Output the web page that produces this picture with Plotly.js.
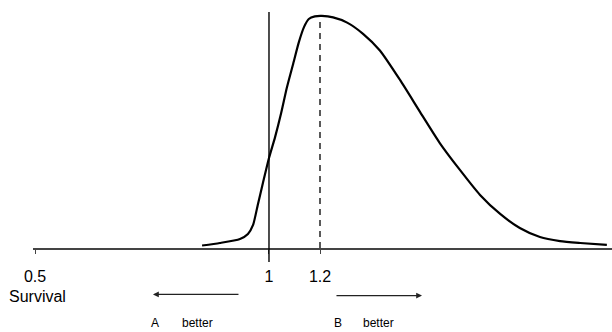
<!DOCTYPE html>
<html>
<head>
<meta charset="utf-8">
<script src="https://cdn.plot.ly/plotly-3.0.1.min.js"></script>
<style>html,body{margin:0;padding:0;background:#fff}#chart{width:612px;height:332px}</style>
</head>
<body>
<div id="chart"></div>
<script>
// Schematic density of the survival ratio (x in display units of the sketch)
var curveX = [0.857, 0.895, 0.938, 0.955, 0.966, 0.976, 0.987, 1.000, 1.013, 1.026, 1.038, 1.051, 1.064, 1.075, 1.085, 1.098, 1.113, 1.137, 1.167, 1.201, 1.237, 1.280, 1.323, 1.365, 1.408, 1.451, 1.494, 1.536, 1.579, 1.622, 1.665, 1.722];
var curveY = [0.0105, 0.021, 0.038, 0.059, 0.097, 0.181, 0.273, 0.378, 0.466, 0.567, 0.672, 0.769, 0.866, 0.929, 0.962, 0.973, 0.975, 0.969, 0.947, 0.900, 0.830, 0.706, 0.571, 0.441, 0.328, 0.223, 0.143, 0.084, 0.046, 0.029, 0.021, 0.013];
var tickPos = [0.5, 1.0, 1.109];
var tickLabels = ['0.5', '1', '1.2'];
var noEffect = 1.0;        // vertical reference line
var peakPos = 1.109;       // dashed line at the mode (label 1.2)
var peakHeight = 0.975;
var axisTitle = 'Survival';
var sideLabels = ['A', 'better', 'B', 'better'];

var font = 'Liberation Sans, Arial, sans-serif';

var traces = [{
  x: curveX, y: curveY, type: 'scatter', mode: 'lines',
  line: {color: '#000', width: 2.2, shape: 'spline', smoothing: 0.6},
  hoverinfo: 'skip', showlegend: false
}];

var layout = {
  width: 612, height: 332,
  margin: {l: 33, r: 0, t: 10, b: 84},
  paper_bgcolor: '#fff', plot_bgcolor: '#fff',
  font: {family: font, color: '#000', size: 16},
  xaxis: {
    range: [0.4957, 1.733], showgrid: false, zeroline: false,
    showline: true, linecolor: '#444', linewidth: 1.6,
    tickmode: 'array', tickvals: tickPos, ticktext: tickLabels,
    ticks: 'outside', ticklen: 4, tickcolor: '#444', tickwidth: 1,
    ticklabelstandoff: 9,
    tickfont: {family: font, size: 16, color: '#000'}
  },
  yaxis: {range: [0, 1], visible: false, showgrid: false, zeroline: false, fixedrange: true},
  shapes: [
    {type: 'line', xref: 'x', yref: 'paper', x0: noEffect, x1: noEffect, y0: -0.059, y1: 0.992,
     line: {color: '#000', width: 1.4}},
    {type: 'line', xref: 'x', yref: 'y', x0: peakPos, x1: peakPos, y0: 0, y1: peakHeight,
     line: {color: '#000', width: 1.3, dash: '6px,5px'}}
  ],
  annotations: [
    {xref: 'paper', yref: 'paper', x: -0.045, y: -0.205, xanchor: 'left', yanchor: 'middle',
     text: axisTitle, showarrow: false, font: {family: font, size: 16, color: '#000'}},
    // left arrow (A better)
    {xref: 'x', yref: 'paper', x: 0.752, y: -0.195, ax: 0.938, ay: -0.195, axref: 'x', ayref: 'paper',
     text: '', showarrow: true, arrowhead: 2, arrowsize: 0.9, arrowwidth: 1.3, arrowcolor: '#222'},
    // right arrow (B better)
    {xref: 'x', yref: 'paper', x: 1.327, y: -0.2, ax: 1.141, ay: -0.2, axref: 'x', ayref: 'paper',
     text: '', showarrow: true, arrowhead: 2, arrowsize: 0.9, arrowwidth: 1.3, arrowcolor: '#222'},
    {xref: 'x', yref: 'paper', x: 0.757, y: -0.315, xanchor: 'center', yanchor: 'middle',
     text: sideLabels[0], showarrow: false, font: {family: font, size: 12, color: '#000'}},
    {xref: 'x', yref: 'paper', x: 0.809, y: -0.315, xanchor: 'left', yanchor: 'middle',
     text: sideLabels[1], showarrow: false, font: {family: font, size: 12, color: '#000'}},
    {xref: 'x', yref: 'paper', x: 1.148, y: -0.315, xanchor: 'center', yanchor: 'middle',
     text: sideLabels[2], showarrow: false, font: {family: font, size: 12, color: '#000'}},
    {xref: 'x', yref: 'paper', x: 1.197, y: -0.315, xanchor: 'left', yanchor: 'middle',
     text: sideLabels[3], showarrow: false, font: {family: font, size: 12, color: '#000'}}
  ]
};

Plotly.newPlot('chart', traces, layout, {staticPlot: true, displayModeBar: false});
</script>
</body>
</html>
